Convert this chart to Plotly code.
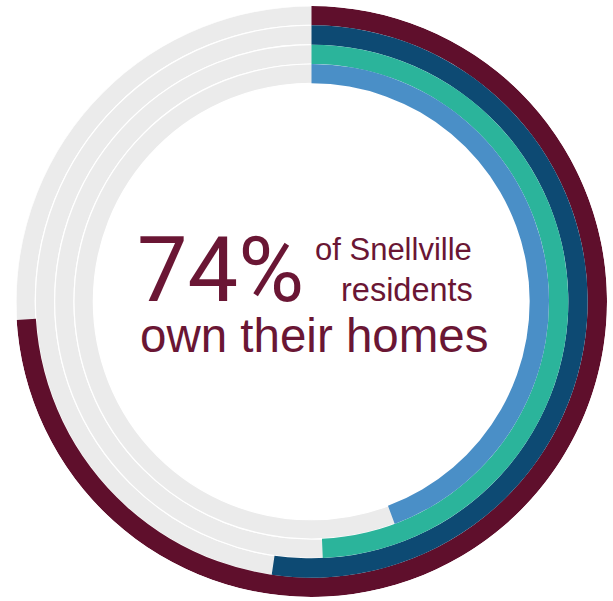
import plotly.graph_objects as go

# ---- data ----
rings = ["Snellville", "Ring 2", "Ring 3", "Ring 4"]
pct_owned = [74, 52.3, 49.3, 44.3]
ring_colors = ["#5f0f2c", "#0d4a73", "#2bb49b", "#4a8fc7"]

# ---- layout constants ----
R_OUT = 295.0
RING_W = 19.3
GRAY = "#ebebeb"
TEXT_COLOR = "#6a1634"

fig = go.Figure()

# background gray full rings
for i, name in enumerate(rings):
    base = R_OUT - (i + 1) * RING_W
    fig.add_trace(go.Barpolar(
        r=[RING_W], base=[base], theta=[180], width=[360],
        marker=dict(color=GRAY, line=dict(color="white", width=1.2)),
        hoverinfo="skip", showlegend=False))

# colored arcs
for i, (name, p, c) in enumerate(zip(rings, pct_owned, ring_colors)):
    base = R_OUT - (i + 1) * RING_W
    span = p * 3.6
    fig.add_trace(go.Barpolar(
        r=[RING_W], base=[base], theta=[span / 2], width=[span],
        marker=dict(color=c, line=dict(width=0)),
        name=name, showlegend=False))

W, H = 613, 601
fig.update_layout(
    width=W, height=H,
    margin=dict(l=0, r=0, t=0, b=0),
    paper_bgcolor="white",
    polar=dict(
        domain=dict(x=[16 / W, 607 / W], y=[1 - 598 / H, 1 - 5 / H]),
        bgcolor="white",
        barmode="overlay",
        radialaxis=dict(range=[0, R_OUT], visible=False),
        angularaxis=dict(direction="clockwise", rotation=90, visible=False),
    ),
)

font = "Liberation Sans, Arial, Helvetica, sans-serif"
fig.add_annotation(text="74%", x=220 / W, y=1 - 270 / H, xref="paper", yref="paper",
                   xanchor="center", yanchor="middle", showarrow=False,
                   font=dict(family="Roboto, " + font, size=90, color=TEXT_COLOR))
fig.add_annotation(text="of Snellville", x=474 / W, y=1 - 249 / H, xref="paper", yref="paper",
                   xanchor="right", yanchor="middle", showarrow=False,
                   font=dict(family=font, size=31, color=TEXT_COLOR))
fig.add_annotation(text="residents", x=475 / W, y=1 - 290 / H, xref="paper", yref="paper",
                   xanchor="right", yanchor="middle", showarrow=False,
                   font=dict(family=font, size=32.5, color=TEXT_COLOR))
fig.add_annotation(text="own their homes", x=314 / W, y=1 - 336 / H, xref="paper", yref="paper",
                   xanchor="center", yanchor="middle", showarrow=False,
                   font=dict(family=font, size=47.5, color=TEXT_COLOR))

fig.write_html("out.html", config={"displayModeBar": False},
               post_script="document.body.style.margin='0';")
